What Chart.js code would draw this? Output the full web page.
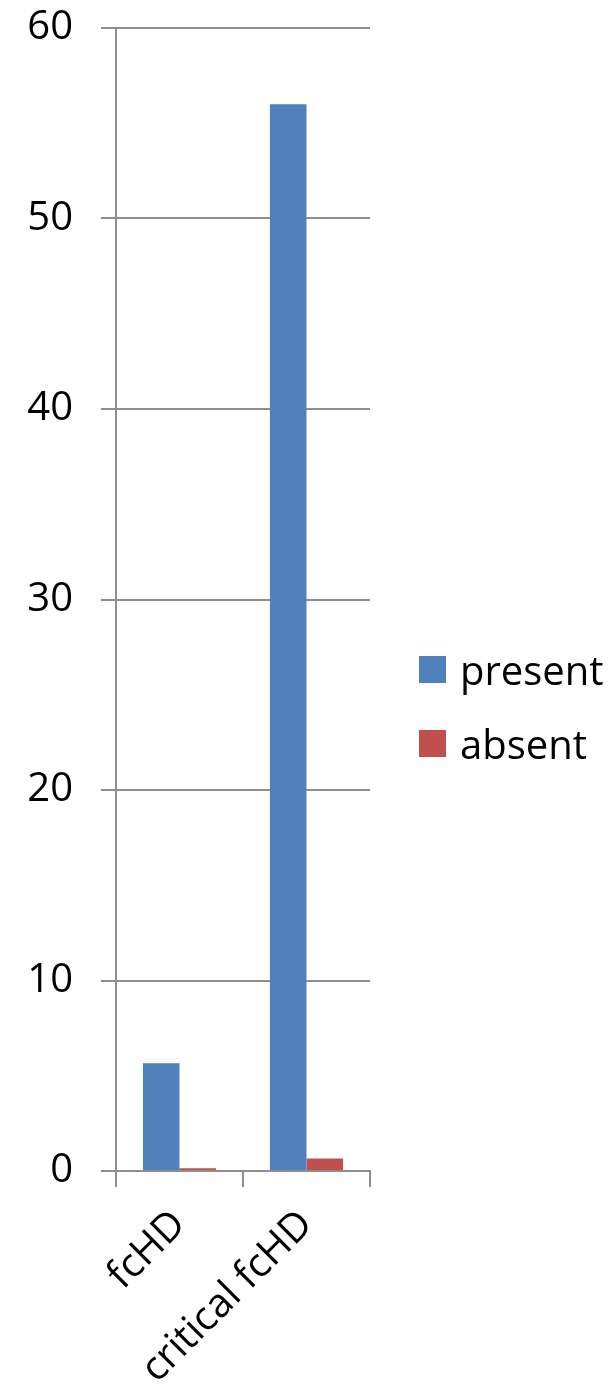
<!DOCTYPE html>
<html>
<head>
<meta charset="utf-8">
<script src="https://cdn.jsdelivr.net/npm/chart.js@4"></script>
<style>
  html, body { margin: 0; padding: 0; background: #fff; }
  #wrap { position: relative; width: 610px; height: 1394px; }
  #legend { position: absolute; left: 419px; top: 632px; font-family: "Open Sans", sans-serif; font-size: 40px; color: #000; }
  .item { display: flex; align-items: center; height: 74px; }
  .box { width: 27px; height: 27px; margin-right: 14px; }
</style>
</head>
<body>
<div id="wrap">
  <canvas id="c" width="610" height="1394"></canvas>
  <div id="legend"></div>
</div>
<script>
// categories and series
const categories = ['fcHD', 'critical fcHD'];
const presentValues = [5.65, 56];
const absentValues = [0.15, 0.66];
const seriesNames = ['present', 'absent'];
const seriesColors = ['#4F81BD', '#C0504D'];

const font = { family: '"Open Sans", sans-serif', size: 40 };
const gridColor = '#8e8e8e';

const chart = new Chart(document.getElementById('c'), {
  type: 'bar',
  data: {
    labels: categories,
    datasets: [
      { label: seriesNames[0], data: presentValues, backgroundColor: seriesColors[0] },
      { label: seriesNames[1], data: absentValues, backgroundColor: seriesColors[1] }
    ]
  },
  options: {
    responsive: false,
    animation: false,
    categoryPercentage: 0.576,
    barPercentage: 1,
    layout: { padding: { top: 28, right: 240, left: 0, bottom: 0 } },
    plugins: { legend: { display: false }, tooltip: { enabled: false } },
    scales: {
      y: {
        min: 0, max: 60,
        ticks: { stepSize: 10, color: '#000', font: font, padding: 28 },
        grid: { color: gridColor, lineWidth: 2, tickLength: 15 },
        border: { color: gridColor, width: 2 },
        afterFit(s) { s.width = 116; s.paddingTop = 0; s.paddingBottom = 0; }
      },
      x: {
        ticks: { color: '#000', font: font, minRotation: 45, maxRotation: 45, padding: 14 },
        grid: { offset: true, drawOnChartArea: false, color: gridColor, lineWidth: 2, tickLength: 16 },
        border: { color: gridColor, width: 2 },
        afterFit(s) { s.height = 223; s.paddingLeft = 0; s.paddingRight = 0; }
      }
    }
  }
});

// legend built from the chart's datasets
const legend = document.getElementById('legend');
chart.data.datasets.forEach(ds => {
  const item = document.createElement('div');
  item.className = 'item';
  const box = document.createElement('div');
  box.className = 'box';
  box.style.background = ds.backgroundColor;
  const label = document.createElement('span');
  label.textContent = ds.label;
  item.appendChild(box);
  item.appendChild(label);
  legend.appendChild(item);
});
</script>
</body>
</html>
